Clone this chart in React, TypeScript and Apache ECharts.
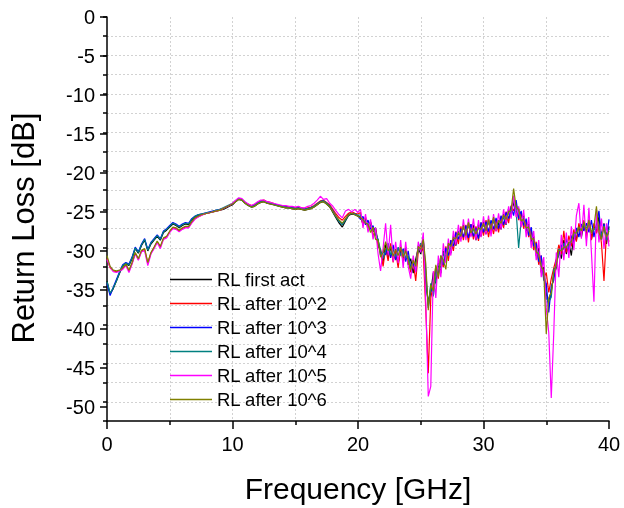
import React, { useEffect, useRef } from "react";
import * as echarts from "echarts";

// Frequency samples [GHz]
const freq = [
  0, 0.25, 0.5, 0.75, 1, 1.25, 1.5, 1.75, 2, 2.25, 2.5, 2.75, 3, 3.25, 3.5, 3.75, 4, 4.25, 4.5, 4.75,
  5, 5.25, 5.5, 5.75, 6, 6.25, 6.5, 6.75, 7, 7.25, 7.5, 7.75, 8, 8.25, 8.5, 8.75, 9, 9.25, 9.5, 9.75,
  10, 10.25, 10.5, 10.75, 11, 11.25, 11.5, 11.75, 12, 12.25, 12.5, 12.75, 13, 13.25, 13.5, 13.75, 14, 14.25, 14.5, 14.75,
  15, 15.25, 15.5, 15.75, 16, 16.25, 16.5, 16.75, 17, 17.25, 17.5, 17.75, 18, 18.25, 18.5, 18.75, 19, 19.25, 19.5, 19.75,
  20,
  20.2, 20.4, 20.6, 20.8, 21, 21.2, 21.4, 21.6, 21.8, 22,
  22.2, 22.4, 22.6, 22.8, 23, 23.2, 23.4, 23.6, 23.8, 24,
  24.2, 24.4, 24.6, 24.8, 25, 25.2, 25.4, 25.6, 25.8, 26,
  26.2, 26.4, 26.6, 26.8, 27, 27.2, 27.4, 27.6, 27.8, 28,
  28.2, 28.4, 28.6, 28.8, 29, 29.2, 29.4, 29.6, 29.8, 30,
  30.2, 30.4, 30.6, 30.8, 31, 31.2, 31.4, 31.6, 31.8, 32,
  32.2, 32.4, 32.6, 32.8, 33, 33.2, 33.4, 33.6, 33.8, 34,
  34.2, 34.4, 34.6, 34.8, 35, 35.2, 35.4, 35.6, 35.8, 36,
  36.2, 36.4, 36.6, 36.8, 37, 37.2, 37.4, 37.6, 37.8, 38,
  38.2, 38.4, 38.6, 38.8, 39, 39.2, 39.4, 39.6, 39.8, 40,
];

const rlFirstAct = [
  -34.3, -36.0, -35.3, -34.3, -33.3, -32.4, -32.1, -32.3, -31.4, -30.1,
  -30.7, -29.7, -29.0, -30.4, -29.5, -29.0, -28.5, -29.0, -28.0, -27.7,
  -27.3, -26.9, -27.1, -27.4, -27.1, -26.9, -27.0, -26.4, -26.0, -25.8,
  -25.7, -25.6, -25.5, -25.4, -25.3, -25.2, -25.1, -25.0, -24.8, -24.6,
  -24.4, -24.0, -23.7, -23.8, -24.2, -24.5, -24.7, -24.6, -24.3, -24.1,
  -24.0, -24.2, -24.3, -24.4, -24.5, -24.6, -24.7, -24.8, -24.8, -24.9,
  -25.0, -24.9, -25.0, -25.1, -25.0, -24.9, -24.7, -24.4, -24.1, -24.0,
  -24.3, -24.7, -25.4, -26.1, -26.8, -27.3, -26.5, -25.8, -25.6, -25.7,
  -25.9,
  -26.0, -26.9, -26.2, -27.3, -26.6, -27.9, -27.4, -29.4, -30.6, -31.8,
  -29.6, -31.2, -29.9, -31.6, -30.2, -32.0, -30.4, -31.4, -29.9, -32.2,
  -31.4, -33.3, -31.5, -30.0, -30.8, -29.0, -34.5, -37.0, -35.8, -33.2,
  -34.6, -32.0, -33.3, -30.4, -31.8, -29.6, -30.7, -28.6, -29.7, -27.9,
  -28.8, -27.0, -28.6, -26.8, -28.4, -27.0, -29.0, -26.9, -28.5, -26.6,
  -28.2, -26.4, -28.0, -26.2, -27.8, -26.7, -27.6, -25.6, -27.0, -25.0,
  -25.9, -24.0, -25.6, -24.9, -26.9, -25.8, -27.8, -26.9, -29.2, -28.5,
  -31.0, -30.0, -33.2, -32.5, -36.0, -37.2, -35.5, -33.6, -32.6, -30.2,
  -31.4, -29.0, -30.8, -29.3, -31.0, -28.2, -29.0, -27.0, -28.6, -26.8,
  -28.4, -26.4, -28.9, -27.0, -28.0, -25.9, -28.6, -26.8, -29.5, -27.2,
];

const rlAfter1e2 = [
  -31.4, -32.6, -33.0, -33.1, -33.0, -32.7, -32.2, -33.0, -32.0, -30.7,
  -31.5, -30.4, -30.2, -32.0, -30.7, -30.0, -29.2, -29.9, -28.8, -28.6,
  -27.9, -27.4, -27.5, -27.8, -27.5, -27.3, -27.3, -26.7, -26.2, -26.0,
  -25.8, -25.6, -25.5, -25.4, -25.3, -25.2, -25.1, -24.9, -24.7, -24.5,
  -24.3, -23.9, -23.6, -23.7, -24.1, -24.3, -24.5, -24.4, -24.1, -23.9,
  -23.8, -24.0, -24.1, -24.2, -24.4, -24.5, -24.5, -24.6, -24.7, -24.7,
  -24.8, -24.7, -24.8, -24.9, -24.8, -24.7, -24.5, -24.2, -23.9, -23.8,
  -24.1, -24.4, -25.0, -25.6, -26.1, -26.4, -25.9, -25.5, -25.3, -25.5,
  -25.6,
  -25.4, -27.1, -26.0, -27.7, -26.8, -28.5, -27.6, -29.8, -30.2, -32.4,
  -30.0, -31.7, -29.4, -31.9, -30.4, -32.6, -29.8, -31.9, -30.2, -31.6,
  -33.2, -31.8, -34.3, -30.5, -29.6, -30.5, -38.0, -46.3, -36.5, -34.8,
  -32.4, -34.0, -31.2, -32.5, -29.8, -31.7, -29.0, -30.4, -27.9, -29.5,
  -27.2, -29.0, -27.0, -29.3, -26.9, -28.9, -27.2, -29.1, -26.7, -28.4,
  -26.4, -28.6, -26.7, -28.2, -26.3, -28.0, -25.9, -27.4, -25.3, -26.8,
  -24.5, -25.2, -24.2, -26.4, -25.4, -27.5, -26.4, -28.6, -27.6, -30.3,
  -29.2, -32.2, -31.0, -34.0, -33.2, -35.8, -34.0, -32.6, -31.4, -29.6,
  -30.8, -27.8, -30.6, -28.4, -29.8, -27.6, -29.2, -26.8, -28.2, -26.4,
  -28.8, -26.3, -29.0, -26.8, -28.1, -27.0, -29.4, -34.3, -28.0, -29.2,
];

const rlAfter1e3 = [
  -34.6, -36.2, -35.1, -34.1, -33.1, -32.2, -31.9, -32.1, -31.2, -29.9,
  -30.5, -29.5, -28.8, -30.2, -29.3, -28.8, -28.3, -28.8, -27.8, -27.5,
  -27.1, -26.7, -26.9, -27.2, -26.9, -26.7, -26.8, -26.2, -25.9, -25.7,
  -25.6, -25.5, -25.4, -25.3, -25.2, -25.1, -25.0, -24.9, -24.7, -24.5,
  -24.3, -23.9, -23.6, -23.7, -24.1, -24.4, -24.6, -24.5, -24.2, -24.0,
  -23.9, -24.1, -24.2, -24.3, -24.4, -24.5, -24.6, -24.7, -24.7, -24.8,
  -24.9, -24.8, -24.9, -25.0, -24.9, -24.8, -24.6, -24.3, -24.0, -23.9,
  -24.2, -24.6, -25.2, -25.9, -26.5, -26.9, -26.3, -25.7, -25.5, -25.6,
  -25.8,
  -26.3, -25.9, -27.0, -26.4, -27.6, -27.1, -28.3, -28.9, -31.0, -30.5,
  -30.9, -29.4, -31.3, -29.6, -31.6, -30.0, -30.9, -30.1, -31.8, -30.4,
  -32.6, -32.0, -33.0, -29.7, -30.4, -28.8, -33.0, -37.8, -35.2, -36.0,
  -32.7, -33.5, -31.0, -32.2, -30.0, -31.0, -29.0, -29.8, -28.0, -28.9,
  -27.5, -28.6, -27.1, -28.7, -26.9, -28.5, -27.4, -28.8, -26.7, -28.0,
  -26.6, -27.9, -26.4, -27.6, -26.1, -27.5, -25.8, -27.0, -25.4, -26.2,
  -24.6, -25.8, -23.8, -26.2, -25.2, -27.1, -26.2, -28.4, -27.3, -29.8,
  -29.4, -31.8, -31.0, -34.2, -34.6, -38.4, -35.0, -34.2, -31.6, -31.0,
  -29.6, -30.2, -28.8, -30.5, -28.4, -29.4, -27.4, -28.6, -26.9, -27.8,
  -26.8, -28.0, -26.4, -28.6, -26.9, -25.2, -28.9, -26.9, -28.6, -26.3,
];

const rlAfter1e4 = [
  -34.4, -35.9, -35.2, -34.3, -33.2, -32.3, -32.0, -32.2, -31.3, -30.0,
  -30.6, -29.6, -28.9, -30.3, -29.4, -28.9, -28.4, -28.9, -27.9, -27.6,
  -27.2, -26.8, -27.0, -27.3, -27.0, -26.8, -26.9, -26.3, -25.9, -25.7,
  -25.6, -25.5, -25.4, -25.4, -25.2, -25.1, -25.0, -24.8, -24.6, -24.4,
  -24.2, -23.9, -23.6, -23.8, -24.1, -24.4, -24.7, -24.5, -24.2, -24.0,
  -23.9, -24.1, -24.2, -24.3, -24.5, -24.5, -24.6, -24.7, -24.8, -24.8,
  -24.9, -24.8, -24.9, -25.0, -24.9, -24.8, -24.6, -24.3, -24.0, -23.9,
  -24.2, -24.6, -25.3, -26.0, -26.6, -27.0, -26.4, -25.7, -25.5, -25.6,
  -25.8,
  -25.7, -26.5, -26.4, -27.2, -27.0, -27.7, -28.0, -29.0, -30.3, -31.4,
  -30.4, -29.5, -30.9, -30.2, -31.2, -29.9, -31.0, -30.3, -31.3, -31.0,
  -32.8, -31.8, -32.2, -30.2, -29.4, -29.5, -33.8, -37.5, -34.6, -36.3,
  -33.8, -32.1, -32.6, -30.6, -31.2, -29.8, -30.3, -28.5, -29.2, -27.8,
  -28.4, -27.2, -28.2, -27.0, -27.9, -27.6, -28.6, -27.1, -28.0, -26.8,
  -27.8, -26.5, -27.6, -26.5, -27.2, -26.6, -27.0, -26.0, -26.5, -25.2,
  -25.4, -23.6, -25.2, -30.0, -26.5, -26.0, -27.6, -27.0, -28.8, -28.8,
  -30.6, -30.4, -32.6, -33.0, -36.6, -37.0, -36.4, -32.8, -32.4, -30.2,
  -30.2, -29.4, -30.0, -29.6, -29.2, -28.3, -28.0, -27.3, -27.6, -27.0,
  -27.4, -26.9, -27.9, -27.6, -27.4, -27.2, -28.4, -27.1, -29.0, -27.5,
];

const rlAfter1e5 = [
  -31.5, -32.5, -33.1, -33.2, -33.0, -32.8, -32.3, -33.2, -32.1, -30.8,
  -31.6, -30.5, -30.4, -32.3, -30.8, -30.1, -29.3, -30.1, -28.9, -28.7,
  -28.0, -27.5, -27.6, -27.9, -27.6, -27.4, -27.4, -26.8, -26.3, -26.0,
  -25.8, -25.6, -25.5, -25.4, -25.3, -25.2, -25.1, -24.9, -24.7, -24.5,
  -24.2, -23.8, -23.5, -23.6, -24.0, -24.3, -24.5, -24.3, -24.0, -23.8,
  -23.8, -24.0, -24.1, -24.2, -24.3, -24.4, -24.5, -24.5, -24.6, -24.6,
  -24.7, -24.6, -24.8, -24.8, -24.6, -24.5, -24.2, -23.8, -23.3, -23.7,
  -23.6, -24.2, -24.6, -25.2, -25.7, -26.1, -25.2, -25.0, -25.3, -25.0,
  -25.4,
  -25.0, -27.4, -25.6, -28.0, -26.3, -28.9, -27.4, -30.8, -33.0, -30.0,
  -26.8, -31.0, -27.0, -31.8, -29.2, -32.0, -29.0, -32.6, -29.2, -32.4,
  -34.0, -31.0, -33.2, -29.2, -30.6, -28.0, -37.0, -49.3, -48.0, -33.0,
  -36.5, -31.0, -33.8, -29.4, -32.0, -28.8, -31.0, -27.8, -29.6, -27.0,
  -29.2, -26.3, -29.0, -26.2, -28.6, -26.2, -29.0, -26.4, -28.6, -25.9,
  -28.3, -25.8, -28.5, -25.6, -27.9, -25.5, -27.6, -25.0, -26.9, -24.6,
  -26.2, -23.2, -26.0, -24.6, -27.3, -25.1, -28.6, -26.0, -30.0, -27.8,
  -31.6, -29.0, -33.8, -31.2, -37.8, -41.0, -49.5, -41.0, -30.6, -33.8,
  -28.3, -31.6, -28.0, -31.3, -27.2, -30.3, -25.8, -24.2, -28.8, -24.4,
  -29.8, -24.8, -30.6, -37.0, -25.0, -29.3, -26.2, -30.1, -26.8, -29.8,
];

const rlAfter1e6 = [
  -31.0, -32.4, -32.9, -33.0, -32.9, -32.6, -32.1, -32.9, -31.9, -30.6,
  -31.4, -30.3, -30.1, -31.9, -30.6, -29.9, -29.1, -29.8, -28.7, -28.5,
  -27.8, -27.3, -27.4, -27.7, -27.4, -27.2, -27.2, -26.6, -26.1, -25.9,
  -25.7, -25.6, -25.5, -25.4, -25.3, -25.2, -25.1, -24.9, -24.7, -24.5,
  -24.3, -24.0, -23.7, -23.8, -24.2, -24.5, -24.7, -24.6, -24.3, -24.1,
  -24.0, -24.2, -24.3, -24.4, -24.5, -24.6, -24.7, -24.8, -24.8, -24.9,
  -25.0, -24.9, -25.0, -25.1, -25.0, -24.9, -24.7, -24.4, -24.1, -24.0,
  -24.3, -24.7, -25.3, -25.9, -26.4, -26.8, -26.2, -25.7, -25.5, -25.7,
  -25.9,
  -26.1, -26.3, -26.8, -26.9, -28.0, -27.3, -28.9, -29.0, -31.2, -30.6,
  -29.2, -30.4, -29.8, -31.1, -30.2, -31.0, -29.9, -31.2, -30.4, -31.6,
  -32.9, -31.6, -32.4, -29.8, -30.2, -28.9, -32.0, -38.1, -34.8, -35.6,
  -32.2, -33.8, -31.0, -31.6, -32.8, -29.4, -29.8, -28.7, -28.8, -28.0,
  -28.5, -27.1, -28.4, -26.7, -28.1, -27.4, -28.2, -27.4, -27.6, -26.8,
  -27.8, -26.3, -27.6, -26.0, -27.5, -26.4, -26.8, -25.7, -26.3, -25.3,
  -25.1, -22.3, -24.7, -25.0, -26.5, -26.3, -27.4, -27.3, -28.9, -28.8,
  -30.5, -30.8, -32.4, -33.0, -41.2, -36.5, -35.8, -33.3, -32.2, -30.3,
  -30.4, -29.9, -29.9, -29.3, -29.2, -28.0, -28.1, -27.3, -27.8, -26.6,
  -27.9, -26.4, -28.1, -27.3, -24.6, -28.0, -28.9, -27.2, -28.6, -27.8,
];

const seriesNames = [
  "RL first act",
  "RL after 10^2",
  "RL after 10^3",
  "RL after 10^4",
  "RL after 10^5",
  "RL after 10^6",
];
const seriesValues = [rlFirstAct, rlAfter1e2, rlAfter1e3, rlAfter1e4, rlAfter1e5, rlAfter1e6];
const seriesColors = ["#000000", "#ff0000", "#0000ff", "#008080", "#ff00ff", "#808000"];

const xTitle = "Frequency [GHz]";
const yTitle = "Return Loss [dB]";

export default function App() {
  const ref = useRef<HTMLDivElement>(null);

  useEffect(() => {
    document.body.style.margin = "0";
    const chart = echarts.init(ref.current!, null, { renderer: "svg" });
    const font = "'Liberation Sans', Arial, Helvetica, sans-serif";
    const gridColor = "#d2d2d2";
    const axisColor = "#000000";
    const dotted = { color: gridColor, type: [2, 2] as any, width: 1 };

    chart.setOption({
      animation: false,
      textStyle: { fontFamily: font },
      grid: [
        { left: 107, right: 15, top: 17, bottom: 82 },
        { left: 107, right: 15, top: 17, bottom: 101.5 },
      ],
      xAxis: [
        {
          type: "value",
          gridIndex: 0,
          min: 0,
          max: 40,
          interval: 10,
          axisLine: { show: true, onZero: false, lineStyle: { color: axisColor, width: 1.5 } },
          axisTick: { show: true, length: 8, lineStyle: { color: axisColor, width: 1.5 } },
          minorTick: { show: true, splitNumber: 2, length: 4, lineStyle: { color: axisColor, width: 1.5 } },
          axisLabel: { color: "#000", fontSize: 20, margin: 13, fontFamily: font },
          splitLine: { show: true, showMinLine: false, showMaxLine: false, lineStyle: dotted },
          minorSplitLine: { show: true, lineStyle: dotted },
          name: xTitle,
          nameLocation: "middle",
          nameGap: 52,
          nameTextStyle: { fontSize: 30, color: "#000", fontFamily: font },
        },
        { type: "value", gridIndex: 1, min: 0, max: 40, show: false },
      ],
      yAxis: [
        {
          type: "value",
          gridIndex: 0,
          min: -52.5,
          max: 0,
          interval: 2.5,
          axisLine: { show: true, onZero: false, lineStyle: { color: axisColor, width: 1.5 } },
          axisTick: { show: true, length: 4, lineStyle: { color: axisColor, width: 1.5 } },
          axisLabel: { show: false },
          splitLine: { show: true, showMinLine: false, showMaxLine: false, lineStyle: dotted },
        },
        {
          type: "value",
          gridIndex: 1,
          min: -50,
          max: 0,
          interval: 5,
          axisLine: { show: false, onZero: false },
          axisTick: { show: true, length: 7, lineStyle: { color: axisColor, width: 1.5 } },
          axisLabel: { color: "#000", fontSize: 20, margin: 12, fontFamily: font },
          splitLine: { show: false },
        },
      ],
      legend: {
        orient: "vertical",
        left: 170,
        top: 270,
        padding: 0,
        itemGap: 5,
        itemWidth: 42,
        itemHeight: 1.5,
        icon: "rect",
        data: seriesNames,
        textStyle: { fontSize: 18.5, color: "#000", lineHeight: 18, fontFamily: font },
      },
      graphic: [
        {
          type: "text",
          x: 23,
          y: 228,
          rotation: Math.PI / 2,
          style: {
            text: yTitle,
            fontSize: 31,
            fontFamily: font,
            fill: "#000",
            textAlign: "center",
            textVerticalAlign: "middle",
            align: "center",
            verticalAlign: "middle",
          },
        },
      ],
      series: seriesNames.map((name, k) => ({
        name,
        type: "line",
        xAxisIndex: 0,
        yAxisIndex: 0,
        symbol: "none",
        showSymbol: false,
        z: 2 + k,
        lineStyle: { width: 1.2, color: seriesColors[k] },
        itemStyle: { color: seriesColors[k] },
        data: freq.map((f, i) => [f, seriesValues[k][i]]),
      })),
    });

    return () => {
      chart.dispose();
    };
  }, []);

  return (
    <div
      ref={ref}
      style={{ position: "fixed", left: 0, top: 0, width: 624, height: 508 }}
    />
  );
}
